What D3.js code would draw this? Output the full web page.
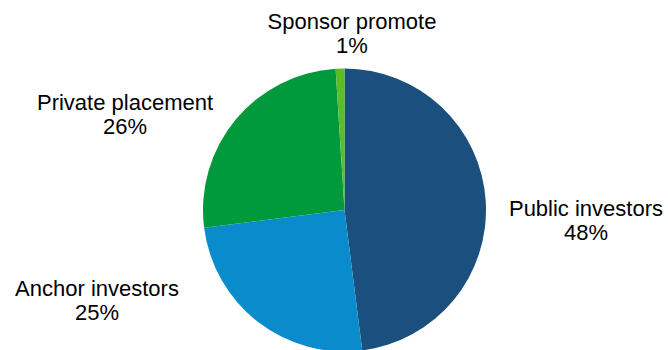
<!DOCTYPE html>
<html><head><meta charset="utf-8">
<script src="https://cdn.jsdelivr.net/npm/d3@7"></script>
<style>body{margin:0;background:#fff}svg{display:block}</style>
</head><body>
<svg id="chart" width="668" height="350"></svg>
<script>
const categories = ["Public investors", "Anchor investors", "Private placement", "Sponsor promote"];
const values = [48, 25, 26, 1];
const labels = ["48%", "25%", "26%", "1%"];
const colors = ["#1b4f7e", "#0a8bcb", "#009a3d", "#5cbd2b"];
const labelPos = [[586, 216], [97, 296], [125, 110], [352, 29]];

const svg = d3.select("#chart");
const cx = 344.5, cy = 210, r = 141.5;
const pie = d3.pie().sort(null).value(d => d)(values);
const arc = d3.arc().innerRadius(0).outerRadius(r);
const g = svg.append("g").attr("transform", `translate(${cx},${cy})`);
g.selectAll("path").data(pie).join("path")
  .attr("d", arc).attr("fill", (d, i) => colors[i]);

const t = svg.selectAll("text.lbl").data(categories).join("text")
  .attr("class", "lbl")
  .attr("text-anchor", "middle")
  .attr("font-family", "Liberation Sans, Arial, sans-serif")
  .attr("font-size", 22)
  .attr("fill", "#000")
  .attr("x", (d, i) => labelPos[i][0])
  .attr("y", (d, i) => labelPos[i][1]);
t.append("tspan").text(d => d);
t.append("tspan").attr("x", (d, i) => labelPos[i][0]).attr("dy", 24).text((d, i) => labels[i]);
</script>
</body></html>
